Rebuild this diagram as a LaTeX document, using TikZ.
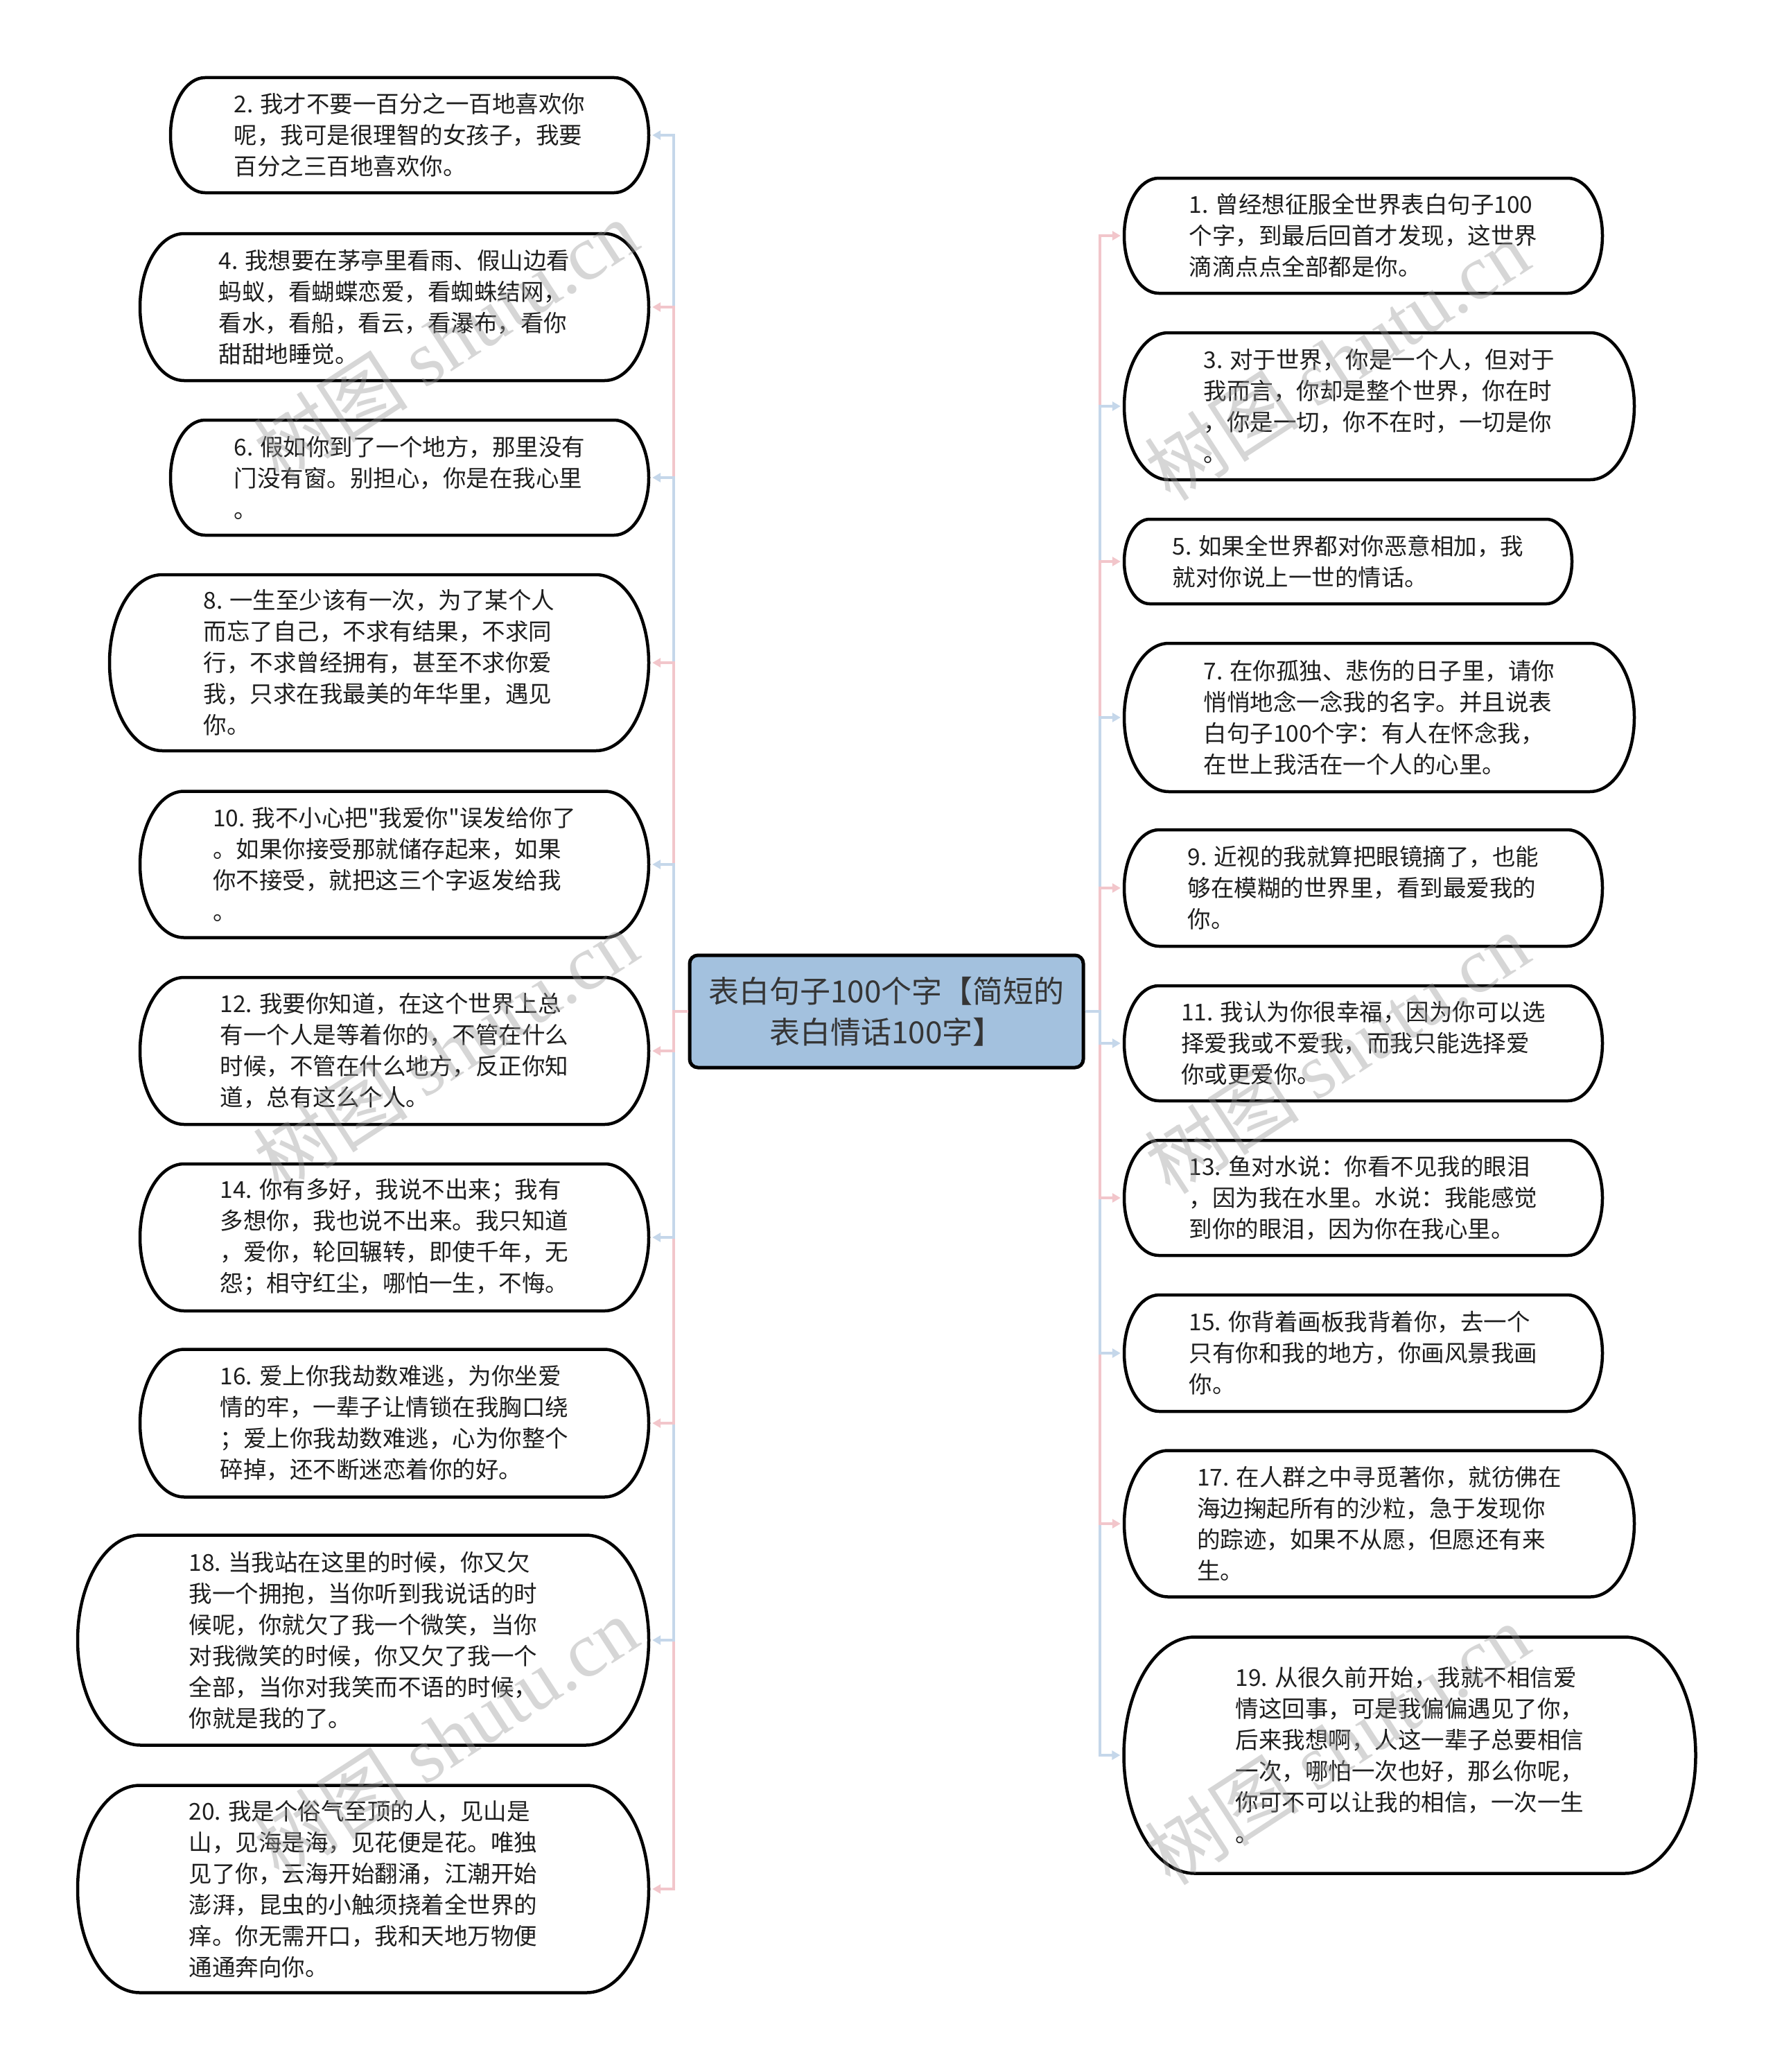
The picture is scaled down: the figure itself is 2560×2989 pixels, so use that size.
\documentclass[tikz,border=0pt]{standalone}
\usepackage{fontspec}
\setmainfont{Noto Sans CJK SC}[Ligatures=TeXOff]
\newfontfamily\wmserif{Liberation Serif}
\usetikzlibrary{arrows.meta}
\definecolor{rootfill}{HTML}{A3C1DE}
\definecolor{lblue}{HTML}{C5D7EA}
\definecolor{lpink}{HTML}{F2C6CB}
\definecolor{txt}{HTML}{1E1E1E}
\definecolor{wmgray}{HTML}{9A9A9A}
% name, cx, cy, w, h, text
\newcommand{\pill}[6]{%
  \node[pilltext, minimum width=#4pt, minimum height=#5pt] (#1) at (#2,#3) {#6};
  \draw[pillline] ({#2-#4/2+0.3*#5},{#3-#5/2}) -- ({#2+#4/2-0.3*#5},{#3-#5/2})
     arc[start angle=-90,end angle=90,x radius={0.3*#5},y radius={#5/2}]
     -- ({#2-#4/2+0.3*#5},{#3+#5/2})
     arc[start angle=90,end angle=270,x radius={0.3*#5},y radius={#5/2}] -- cycle;
}
\begin{document}
\begin{tikzpicture}[x=1pt,y=-1pt,
  pilltext/.style={inner sep=0pt, align=left, text=txt, font=\fontsize{33.5}{45}\selectfont},
  pillline/.style={draw=black, line width=4.5pt},
  rootbox/.style={draw=black, line width=5pt, fill=rootfill, rounded corners=12pt,
    minimum width=568pt, minimum height=162pt, inner sep=0pt, align=center,
    text=txt!90, font=\fontsize{44}{59}\selectfont},
  conn/.style={line width=4pt, -{Triangle[length=12pt,width=13pt]}, shorten >=5pt},
  wm/.style={text=wmgray, opacity=0.4, rotate=33, inner sep=0pt, font=\fontsize{112}{120}\selectfont}]
\fill[white] (0,0) rectangle (2560,2989);
\useasboundingbox (0,0) rectangle (2560,2989);

\node[rootbox] (root) at (1279,1459) {表白句子100个字【简短的\\表白情话100字】};

% left nodes
\pill{n2}{591}{195}{690}{166}{2. 我才不要一百分之一百地喜欢你\\呢，我可是很理智的女孩子，我要\\百分之三百地喜欢你。}
\pill{n4}{569}{443}{734}{212}{4. 我想要在茅亭里看雨、假山边看\\蚂蚁，看蝴蝶恋爱，看蜘蛛结网，\\看水，看船，看云，看瀑布，看你\\甜甜地睡觉。}
\pill{n6}{591}{689}{690}{166}{6. 假如你到了一个地方，那里没有\\门没有窗。别担心，你是在我心里\\。}
\pill{n8}{547}{956}{778}{254}{8. 一生至少该有一次，为了某个人\\而忘了自己，不求有结果，不求同\\行，不求曾经拥有，甚至不求你爱\\我，只求在我最美的年华里，遇见\\你。}
\pill{n10}{569}{1247}{734}{211}{10. 我不小心把"我爱你"误发给你了\\。如果你接受那就储存起来，如果\\你不接受，就把这三个字返发给我\\。}
\pill{n12}{569}{1516}{734}{212}{12. 我要你知道，在这个世界上总\\有一个人是等着你的，不管在什么\\时候，不管在什么地方，反正你知\\道，总有这么个人。}
\pill{n14}{569}{1785}{734}{212}{14. 你有多好，我说不出来；我有\\多想你，我也说不出来。我只知道\\，爱你，轮回辗转，即使千年，无\\怨；相守红尘，哪怕一生，不悔。}
\pill{n16}{569}{2053}{734}{213}{16. 爱上你我劫数难逃，为你坐爱\\情的牢，一辈子让情锁在我胸口绕\\；爱上你我劫数难逃，心为你整个\\碎掉，还不断迷恋着你的好。}
\pill{n18}{524}{2366}{824}{303}{18. 当我站在这里的时候，你又欠\\我一个拥抱，当你听到我说话的时\\候呢，你就欠了我一个微笑，当你\\对我微笑的时候，你又欠了我一个\\全部，当你对我笑而不语的时候，\\你就是我的了。}
\pill{n20}{524}{2725}{824}{299}{20. 我是个俗气至顶的人，见山是\\山，见海是海，见花便是花。唯独\\见了你，云海开始翻涌，江潮开始\\澎湃，昆虫的小触须挠着全世界的\\痒。你无需开口，我和天地万物便\\通通奔向你。}

% right nodes
\pill{n1}{1967}{340}{690}{166}{1. 曾经想征服全世界表白句子100\\个字，到最后回首才发现，这世界\\滴滴点点全部都是你。}
\pill{n3}{1990}{586}{736}{212}{3. 对于世界，你是一个人，但对于\\我而言，你却是整个世界，你在时\\，你是一切，你不在时，一切是你\\。}
\pill{n5}{1945}{810}{646}{122}{5. 如果全世界都对你恶意相加，我\\就对你说上一世的情话。}
\pill{n7}{1990}{1035}{736}{214}{7. 在你孤独、悲伤的日子里，请你\\悄悄地念一念我的名字。并且说表\\白句子100个字：有人在怀念我，\\在世上我活在一个人的心里。}
\pill{n9}{1967}{1281}{690}{168}{9. 近视的我就算把眼镜摘了，也能\\够在模糊的世界里，看到最爱我的\\你。}
\pill{n11}{1967}{1505}{690}{166}{11. 我认为你很幸福，因为你可以选\\择爱我或不爱我，而我只能选择爱\\你或更爱你。}
\pill{n13}{1967}{1728}{690}{166}{13. 鱼对水说：你看不见我的眼泪\\，因为我在水里。水说：我能感觉\\到你的眼泪，因为你在我心里。}
\pill{n15}{1967}{1952}{690}{168}{15. 你背着画板我背着你，去一个\\只有你和我的地方，你画风景我画\\你。}
\pill{n17}{1990}{2198}{736}{211}{17. 在人群之中寻觅著你，就彷佛在\\海边掬起所有的沙粒，急于发现你\\的踪迹，如果不从愿，但愿还有来\\生。}
\pill{n19}{2034}{2532}{825}{341}{19. 从很久前开始，我就不相信爱\\情这回事，可是我偏偏遇见了你，\\后来我想啊，人这一辈子总要相信\\一次，哪怕一次也好，那么你呢，\\你可不可以让我的相信，一次一生\\。}

% connectors, left side (outer first)
\draw[conn,lblue] (root.west) -- ++(-21,0) |- (n2.east);
\draw[conn,lpink] (root.west) -- ++(-21,0) |- (n4.east);
\draw[conn,lblue] (root.west) -- ++(-21,0) |- (n6.east);
\draw[conn,lpink] (root.west) -- ++(-21,0) |- (n8.east);
\draw[conn,lblue] (root.west) -- ++(-21,0) |- (n10.east);
\draw[conn,lpink] (root.west) -- ++(-21,0) |- (n20.east);
\draw[conn,lblue] (root.west) -- ++(-21,0) |- (n18.east);
\draw[conn,lpink] (root.west) -- ++(-21,0) |- (n16.east);
\draw[conn,lblue] (root.west) -- ++(-21,0) |- (n14.east);
\draw[conn,lpink] (root.west) -- ++(-21,0) |- (n12.east);
% right side
\draw[conn,lpink] (root.east) -- ++(21,0) |- (n1.west);
\draw[conn,lblue] (root.east) -- ++(21,0) |- (n3.west);
\draw[conn,lpink] (root.east) -- ++(21,0) |- (n5.west);
\draw[conn,lblue] (root.east) -- ++(21,0) |- (n7.west);
\draw[conn,lpink] (root.east) -- ++(21,0) |- (n9.west);
\draw[conn,lblue] (root.east) -- ++(21,0) |- (n19.west);
\draw[conn,lpink] (root.east) -- ++(21,0) |- (n17.west);
\draw[conn,lblue] (root.east) -- ++(21,0) |- (n15.west);
\draw[conn,lpink] (root.east) -- ++(21,0) |- (n13.west);
\draw[conn,lblue] (root.east) -- ++(21,0) |- (n11.west);

% watermarks
\node[wm] (wm1) at (643,491) {树图 {\wmserif shutu.cn}};
\node[wm] (wm2) at (1929,519) {树图 {\wmserif shutu.cn}};
\node[wm] (wm3) at (643,1515) {树图 {\wmserif shutu.cn}};
\node[wm] (wm4) at (1929,1519) {树图 {\wmserif shutu.cn}};
\node[wm] (wm5) at (643,2506) {树图 {\wmserif shutu.cn}};
\node[wm] (wm6) at (1929,2516) {树图 {\wmserif shutu.cn}};
\end{tikzpicture}
\end{document}
